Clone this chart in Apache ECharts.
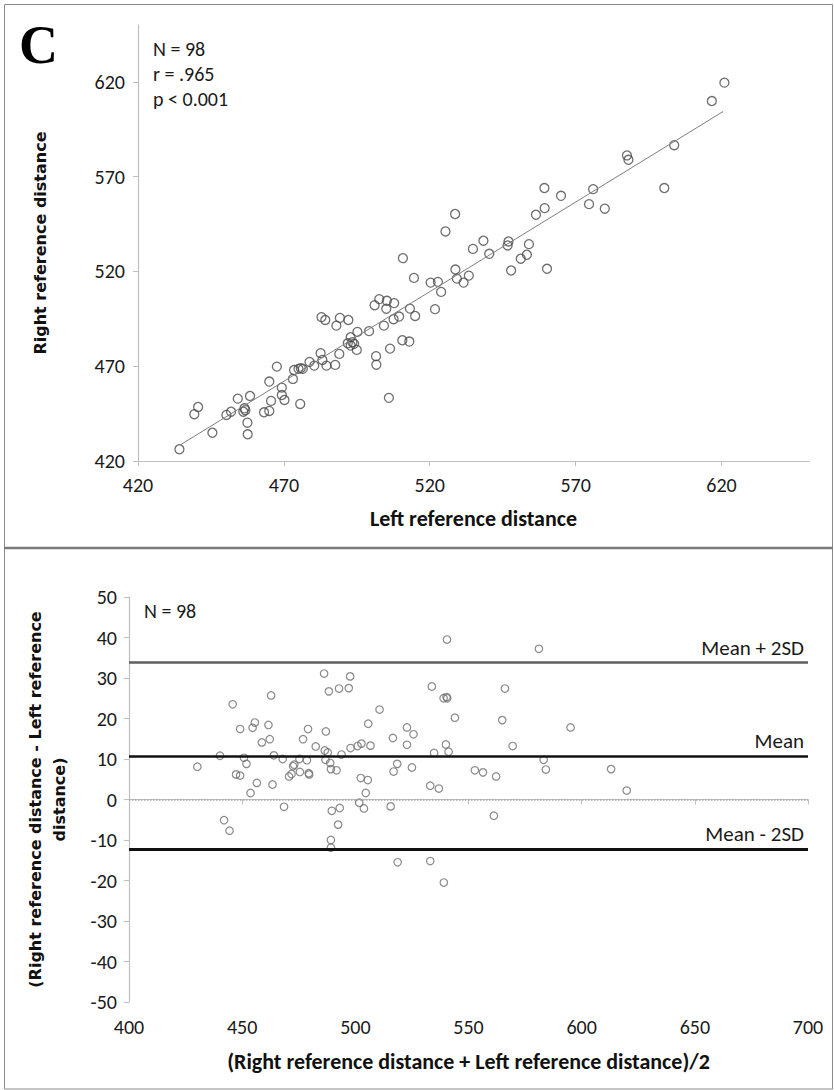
<!DOCTYPE html>
<html>
<head>
<meta charset="utf-8">
<script src="https://cdn.jsdelivr.net/npm/echarts@6/dist/echarts.min.js"></script>
<style>
  html, body { margin: 0; padding: 0; background: #fff; }
  #chart { width: 834px; height: 1090px; }
</style>
</head>
<body>
<div id="chart"></div>
<script>
// Panel C: left vs right reference distance, and the Bland–Altman agreement plot

// Scatter: left reference distance (x) against right reference distance (y)
const leftDist = [
  434.2,439.3,440.6,445.5,450.3,451.9,454.2,456.5,456.1,458.4,457.5,457.6,463.2,465.0,465.6,465.0,
  467.6,469.3,469.3,470.2,475.6,473.1,473.5,475.0,476.5,478.8,480.4,482.6,483.2,484.6,482.9,484.2,
  528.7,525.4,559.4,556.4,538.4,534.8,540.4,547.0,546.7,554.0,553.3,551.2,547.9,560.2,510.8,514.6,
  520.3,522.8,523.9,528.8,529.3,531.6,533.4,521.8,513.2,515.0,509.5,507.6,507.8,505.3,502.7,501.1,
  505.1,504.3,499.2,510.6,513.0,506.4,501.6,501.7,506.0,489.2,492.1,488.0,495.2,492.9,491.9,493.5,
  492.9,495.0,489.0,487.6,
  621.0,616.7,603.8,587.6,588.1,600.4,576.0,574.6,580.0,565.0,559.3,
  494.1,475.8,456.8
];
const rightDist = [
  426.2,444.7,448.5,434.9,444.3,446.0,452.9,447.8,446.0,454.3,440.2,434.1,445.7,446.4,451.7,461.9,
  469.8,458.7,454.8,452.2,450.1,463.3,468.0,468.6,468.6,472.3,470.3,476.9,473.3,470.3,495.9,494.4,
  550.3,541.1,553.4,549.9,536.2,531.9,529.3,535.8,533.7,534.4,528.8,526.7,520.5,521.4,527.0,516.6,
  514.1,514.5,509.2,521.0,516.2,514.1,517.8,500.1,500.4,496.5,496.2,494.8,503.3,504.5,505.4,502.2,
  500.3,491.4,488.5,483.7,483.0,479.3,475.3,470.8,453.3,495.5,494.4,491.4,488.1,485.3,482.1,482.7,
  480.9,478.6,476.5,470.7,
  619.6,609.9,586.6,581.2,578.9,564.0,563.4,555.5,553.1,559.9,564.0,
  481.8,469.0,446.8
];

// Least-squares fit line, drawn between its two end points
const fitLeft = [434.4, 620.6];
const fitRight = [428.4, 604.4];

// Bland–Altman: mean of both distances (x) and right minus left (y)
const avgDist = [
  430.2,440.2,442.0,444.4,445.8,447.3,449.1,449.1,450.8,451.9,453.7,454.6,455.6,456.5,458.7,461.6,
  462.2,462.8,463.4,464.0,467.9,468.5,470.7,471.8,472.5,475.5,475.3,476.9,478.6,479.1,479.4,479.6,
  482.5,486.2,487.0,486.5,487.8,486.8,488.3,488.9,489.2,491.7,489.6,493.1,492.4,489.2,489.2,492.8,
  493.9,
  497.1,497.7,497.9,501.0,502.7,506.7,505.7,510.7,502.4,505.5,504.6,501.7,503.8,515.6,518.7,516.6,
  518.5,516.9,522.8,525.7,522.8,525.0,533.8,539.0,540.6,540.5,544.0,540.0,541.2,534.8,533.1,536.9,
  533.1,539.1,552.8,556.4,562.2,561.2,564.9,566.1,569.5,581.1,
  595.1,583.2,584.2,613.0,619.9,
  473.0,540.3
];
const diffDist = [
  8.1,10.8,-5.1,-7.7,23.5,6.2,5.9,17.4,10.3,8.8,1.6,17.7,19.0,4.1,14.1,18.4,
  14.9,25.7,3.7,10.9,10.0,-1.8,5.7,6.3,8.2,6.8,10.0,14.9,9.7,17.4,6.5,6.2,
  13.1,31.1,16.8,12.1,11.6,9.8,26.7,9.0,7.5,7.2,-2.8,-2.1,-6.2,-10.0,-11.9,27.4,
  11.1,
  27.5,30.4,12.7,13.2,13.8,13.3,18.7,22.2,5.3,4.8,1.6,-0.8,-2.2,-1.7,-15.5,15.2,
  8.8,6.9,17.8,16.1,13.5,7.9,27.9,25.0,25.0,39.5,20.2,13.6,11.8,11.5,3.4,2.7,
  -15.2,-20.5,7.2,6.7,5.7,-4.0,19.6,27.4,13.2,37.2,
  17.8,9.8,7.4,7.5,2.2,
  8.6,25.3
];

// Agreement limits
const limitNames = ['Mean + 2SD', 'Mean', 'Mean - 2SD'];
const limitValues = [33.8, 10.8, -12.2];

// Tick labels
const topTicks = [420, 470, 520, 570, 620];

const statLines = ['N = 98', 'r = .965', 'p < 0.001'];
const baN = 'N = 98';

const sansFont = 'Carlito, Lato, "Open Sans", sans-serif';
const titleFont = '"DejaVu Sans", Verdana, sans-serif';
const tickColor = '#bfbfbf';

const zip = (a, b) => a.map((v, i) => [v, b[i]]);

const labelStyle = { fontFamily: sansFont, fontSize: 20, color: '#1a1a1a' };

const chart = echarts.init(document.getElementById('chart'), null, { renderer: 'svg' });

const limitStyles = [
  { color: '#5f5f5f', width: 2.5 },
  { color: '#111111', width: 2.5 },
  { color: '#111111', width: 3 }
];

const markData = [
  { yAxis: 0, lineStyle: { type: 'dotted', color: '#a6a6a6', width: 1.5 }, label: { show: false } }
].concat(limitValues.map((v, i) => ({
  yAxis: v,
  name: limitNames[i],
  lineStyle: { type: 'solid', color: limitStyles[i].color, width: limitStyles[i].width }
})));

chart.setOption({
  animation: false,
  backgroundColor: '#ffffff',
  grid: [
    { left: 138, top: 25, width: 671, height: 436 },
    { left: 129, top: 597, width: 679, height: 405 }
  ],
  xAxis: [
    {
      gridIndex: 0, type: 'value', min: 420, max: 650,
      axisLine: { show: true, lineStyle: { color: tickColor, width: 1.2 } },
      axisTick: { show: true, length: 5, lineStyle: { color: tickColor }, customValues: topTicks },
      axisLabel: Object.assign({ margin: 14, customValues: topTicks }, labelStyle),
      splitLine: { show: false },
      name: 'Left reference distance', nameLocation: 'middle', nameGap: 46,
      nameTextStyle: { fontFamily: sansFont, fontSize: 22, fontWeight: 'bold', color: '#111' }
    },
    {
      gridIndex: 1, type: 'value', min: 400, max: 700, interval: 50,
      axisLine: { show: true, lineStyle: { color: tickColor, width: 1.2 } },
      axisTick: { show: true, length: 5, lineStyle: { color: tickColor } },
      axisLabel: Object.assign({ margin: 15 }, labelStyle),
      splitLine: { show: false },
      name: '(Right reference distance + Left reference distance)/2', nameLocation: 'middle', nameGap: 48,
      nameTextStyle: { fontFamily: sansFont, fontSize: 22, fontWeight: 'bold', color: '#111' }
    }
  ],
  yAxis: [
    {
      gridIndex: 0, type: 'value', min: 420, max: 650,
      axisLine: { show: true, lineStyle: { color: tickColor, width: 1.2 } },
      axisTick: { show: true, length: 5, lineStyle: { color: tickColor }, customValues: topTicks },
      axisLabel: Object.assign({ margin: 13, customValues: topTicks }, labelStyle),
      splitLine: { show: false },
      name: 'Right reference distance', nameLocation: 'middle', nameGap: 90, nameRotate: 90,
      nameTextStyle: { fontFamily: titleFont, fontSize: 16, fontWeight: 'bold', color: '#111' }
    },
    {
      gridIndex: 1, type: 'value', min: -50, max: 50, interval: 10,
      axisLine: { show: true, lineStyle: { color: tickColor, width: 1.2 } },
      axisTick: { show: true, length: 5, lineStyle: { color: tickColor } },
      axisLabel: Object.assign({ margin: 12 }, labelStyle),
      splitLine: { show: false },
      name: '(Right reference distance - Left reference\ndistance)', nameLocation: 'middle', nameGap: 58, nameRotate: 90,
      nameTextStyle: { fontFamily: titleFont, fontSize: 16, fontWeight: 'bold', color: '#111', lineHeight: 24 }
    }
  ],
  series: [
    {
      type: 'scatter', xAxisIndex: 0, yAxisIndex: 0,
      data: zip(leftDist, rightDist),
      symbol: 'circle', symbolSize: 9,
      itemStyle: { color: 'rgba(0,0,0,0)', borderColor: '#4a4a4a', borderWidth: 1.3 }
    },
    {
      type: 'line', xAxisIndex: 0, yAxisIndex: 0,
      data: zip(fitLeft, fitRight),
      symbol: 'none',
      lineStyle: { color: '#7f7f7f', width: 1 }
    },
    {
      type: 'scatter', xAxisIndex: 1, yAxisIndex: 1,
      data: zip(avgDist, diffDist),
      symbol: 'circle', symbolSize: 7.5,
      itemStyle: { color: 'rgba(0,0,0,0)', borderColor: '#6e6e6e', borderWidth: 1.2 },
      markLine: {
        silent: true, symbol: 'none', animation: false,
        label: {
          position: 'insideEndTop', formatter: '{b}', distance: 4,
          fontFamily: sansFont, fontSize: 21, color: '#1a1a1a'
        },
        data: markData
      }
    }
  ],
  graphic: [
    { type: 'rect', shape: { x: 4.5, y: 4.5, width: 828, height: 543 }, style: { fill: 'none', stroke: '#8c8c8c', lineWidth: 1 }, z: 0 },
    { type: 'rect', shape: { x: 4.5, y: 548, width: 828, height: 541 }, style: { fill: 'none', stroke: '#8c8c8c', lineWidth: 1 }, z: 0 },
    { type: 'line', shape: { x1: 4, y1: 548, x2: 833, y2: 548 }, style: { stroke: '#7a7a7a', lineWidth: 2.5 }, z: 1 },
    { type: 'text', left: 19, top: 18, style: { text: 'C', font: 'bold 54px "Liberation Serif", "Times New Roman", serif', fill: '#000' } },
    { type: 'text', left: 153, top: 39, style: { text: statLines[0], font: '20px ' + sansFont, fill: '#1a1a1a' } },
    { type: 'text', left: 153, top: 64, style: { text: statLines[1], font: '20px ' + sansFont, fill: '#1a1a1a' } },
    { type: 'text', left: 153, top: 89, style: { text: statLines[2], font: '20px ' + sansFont, fill: '#1a1a1a' } },
    { type: 'text', left: 144, top: 601, style: { text: baN, font: '20px ' + sansFont, fill: '#1a1a1a' } }
  ]
});
</script>
</body>
</html>
